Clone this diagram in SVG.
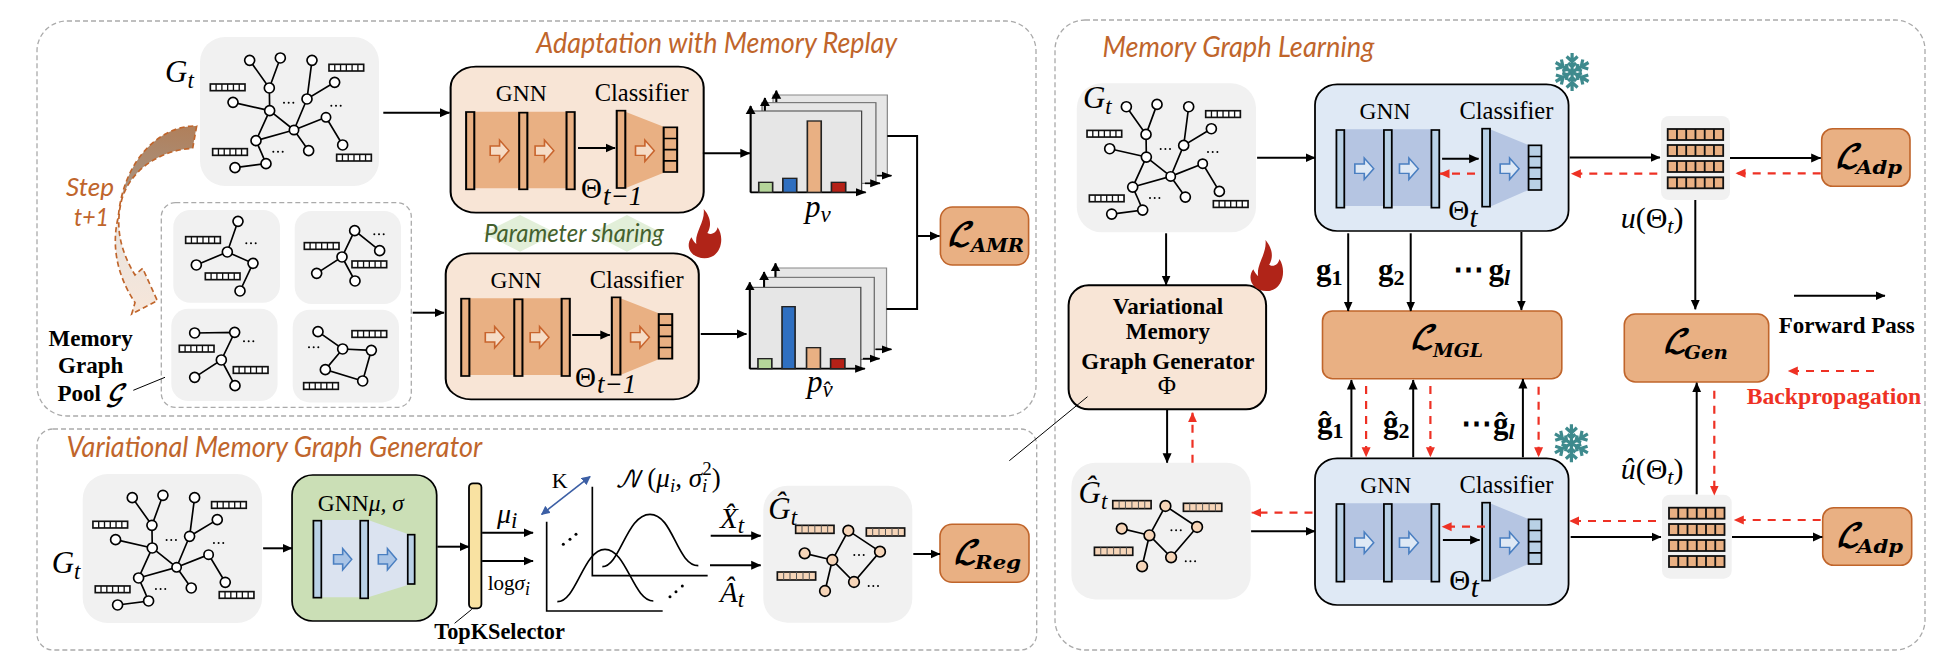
<svg xmlns="http://www.w3.org/2000/svg" width="1944" height="672" viewBox="0 0 1944 672">
<style>
text{font-family:"Liberation Serif","Times New Roman",serif;fill:#000}
.title{font-family:"Lato","Open Sans",sans-serif;font-style:italic;fill:#c0652b;font-size:28px}
.gnn{font-size:23.500px;text-anchor:middle}
.cls{font-size:24.500px;text-anchor:middle}
.bold{font-weight:bold;font-size:23px;text-anchor:middle}
.m{font-style:italic;font-size:31px}
.sub{font-style:italic;font-size:23px}
.th{font-size:29px}
.cal{font-family:"DejaVu Math TeX Gyre","DejaVu Sans",serif;font-weight:bold;font-style:italic;font-size:31px}
.ls{font-family:"DejaVu Serif","Liberation Serif",serif;font-weight:bold;font-style:italic;font-size:19px}
.gb{font-weight:bold;font-size:31px}
.gs{font-weight:bold;font-size:22px}
.panel{fill:none;stroke:#aaa;stroke-width:1.3;stroke-dasharray:5 3}
.gbox{fill:#f1f1f1}
.loss{fill:#e9b083;stroke:#c0652b;stroke-width:1.6}
.fw{fill:none;stroke:#000;stroke-width:2;marker-end:url(#ah)}
.fw2{fill:none;stroke:#000;stroke-width:2}
.bp{fill:none;stroke:#ee3124;stroke-width:2.2;stroke-dasharray:8 7;marker-end:url(#rh)}
.thin{fill:none;stroke:#000;stroke-width:1}
.e{fill:none;stroke:#000;stroke-width:5}
.nw{fill:#fff;stroke:#000;stroke-width:5}
.np{fill:#f6d5b8;stroke:#000;stroke-width:5}
.cell{fill:#e9b083;stroke:#111;stroke-width:1.8}
.axz{fill:none;stroke:#000;stroke-width:5;marker-end:url(#az)}
</style>
<defs>
<marker id="ah" markerUnits="userSpaceOnUse" markerWidth="11" markerHeight="11" refX="9.500" refY="5.500" orient="auto"><path d="M0 1L10 5.500L0 10Z" fill="#000"/></marker>
<marker id="rh" markerUnits="userSpaceOnUse" markerWidth="11" markerHeight="11" refX="9.500" refY="5.500" orient="auto"><path d="M0 1L10 5.500L0 10Z" fill="#ee3124"/></marker>
<marker id="bh" markerUnits="userSpaceOnUse" markerWidth="9" markerHeight="9" refX="8" refY="4.500" orient="auto-start-reverse"><path d="M0 0L9 4.500L0 9Z" fill="#3c5fa5"/></marker>
<marker id="az" markerUnits="userSpaceOnUse" markerWidth="26" markerHeight="26" refX="24" refY="13" orient="auto"><path d="M0 1L26 13L0 25Z" fill="#000"/></marker>
<linearGradient id="stepg" gradientUnits="userSpaceOnUse" x1="400" y1="345" x2="340" y2="910"><stop offset="0" stop-color="#b0805c"/><stop offset=".33" stop-color="#a8927f"/><stop offset=".48" stop-color="#e6e3e0"/><stop offset="1" stop-color="#f7e6d9"/></linearGradient>
<g id="bar" stroke="#111" stroke-width="5"><rect width="104" height="20"/><path d="M17.300 0v20M34.700 0v20M52 0v20M69.300 0v20M86.700 0v20" stroke-width="4" fill="none"/></g>
<g id="barH" stroke="#111" stroke-width="5"><rect width="115" height="24"/><path d="M19 0v24M38 0v24M57.500 0v24M77 0v24M96 0v24" stroke-width="3" fill="none" stroke="#555"/></g>
<g id="dots" fill="#000"><circle cx="-14" cy="0" r="3"/><circle cx="0" cy="0" r="3"/><circle cx="14" cy="0" r="3"/></g>
<g id="graphBig">
<path class="e" d="M689 151L748 234L781 144M748 234L749 302L639 277M749 302L822 360L708 392L749 302M876 151L861 267L944 217M861 267L822 360L918 322L968 405M822 360L866 422M708 392L725 430L738 461L645 473"/>
<g class="nw"><circle cx="689" cy="151" r="15"/><circle cx="781" cy="144" r="15"/><circle cx="748" cy="234" r="15"/><circle cx="639" cy="277" r="15"/><circle cx="749" cy="302" r="15"/><circle cx="876" cy="151" r="15"/><circle cx="944" cy="217" r="15"/><circle cx="861" cy="267" r="15"/><circle cx="918" cy="322" r="14"/><circle cx="822" cy="360" r="14"/><circle cx="708" cy="392" r="15"/><circle cx="866" cy="422" r="15"/><circle cx="968" cy="405" r="15"/><circle cx="738" cy="461" r="15"/><circle cx="645" cy="473" r="15"/></g>
<use href="#bar" x="927" y="163" fill="#fff"/><use href="#bar" x="571" y="222" fill="#fff"/><use href="#bar" x="578" y="416" fill="#fff"/><use href="#bar" x="950" y="433" fill="#fff"/>
<use href="#dots" x="806" y="278"/><use href="#dots" x="948" y="287"/><use href="#dots" x="774" y="425"/>
</g>
<g id="graphHat">
<path class="e" d="M925 332L1020 395L942 486L877 420L925 332M794 400L877 420L855 513"/>
<g class="np"><circle cx="925" cy="332" r="16"/><circle cx="1020" cy="395" r="16"/><circle cx="794" cy="400" r="16"/><circle cx="877" cy="420" r="16"/><circle cx="942" cy="486" r="16"/><circle cx="855" cy="513" r="16"/></g>
<use href="#barH" x="767" y="316" fill="#f6d5b8"/><use href="#barH" x="979" y="324" fill="#f6d5b8"/><use href="#barH" x="712" y="456" fill="#f6d5b8"/>
<use href="#dots" x="957" y="405"/><use href="#dots" x="1000" y="498"/>
</g>
<path id="hol" d="M-23 -14H0V-32L23 0L0 32V14H-23Z" stroke-width="4"/>
<g id="blockO">
<rect x="75" y="170" width="620" height="438" rx="62" fill="#f8e5d6" stroke="#000" stroke-width="5"/>
<path d="M133 305H359V535H133ZM503 305L597 350V488L503 535Z" fill="#e9b083"/>
<g fill="#e9b083" stroke="#000" stroke-width="5"><rect x="113" y="306" width="20" height="232"/><rect x="243" y="308" width="20" height="230"/><rect x="359" y="306" width="20" height="232"/><rect x="482" y="302" width="21" height="232"/><rect x="597" y="352" width="33" height="134"/><path d="M597 385.500H630M597 419H630M597 452.500H630" fill="none"/></g>
<g fill="#f6dcc6" stroke="#c8642d"><use href="#hol" x="195" y="422"/><use href="#hol" x="305" y="422"/><use href="#hol" x="551" y="422"/></g>
</g>
<g id="blockB">
<rect x="742" y="223" width="710" height="440" rx="62" fill="#dfe9f5" stroke="#000" stroke-width="5"/>
<path d="M824 358H1068V588H824ZM1232 358L1340 405V540L1232 590Z" fill="#b5c5e2"/>
<g fill="#b9d1e6" stroke="#000" stroke-width="5"><rect x="802" y="360" width="22" height="233"/><rect x="935" y="360" width="22" height="233"/><rect x="1068" y="360" width="22" height="233"/><rect x="1210" y="356" width="22" height="234"/><rect x="1340" y="406" width="36" height="134"/><path d="M1340 439.500H1376M1340 473H1376M1340 506.500H1376" fill="none"/></g>
<g fill="#dfe9f5" stroke="#4a7fc1"><use href="#hol" transform="translate(880 476) scale(1.15 1)"/><use href="#hol" transform="translate(1005 476) scale(1.15 1)"/><use href="#hol" transform="translate(1287 476) scale(1.15 1)"/></g>
</g>
<path id="flame" fill="#b02418" d="M38 0C52 20 60 45 47 72C58 80 70 70 72 55C90 85 82 148 40 148C10 148 -10 115 8 85C12 95 15 100 20 105C15 70 42 40 38 0Z"/>
<g id="snowArm"><path d="M0 0V-19M-5.500 -15.500L0 -10.500L5.500 -15.500M-4 -9L0 -5.500L4 -9" fill="none" stroke="#3e8a8d" stroke-width="3.200"/></g>
<g id="snow"><use href="#snowArm"/><use href="#snowArm" transform="rotate(60)"/><use href="#snowArm" transform="rotate(120)"/><use href="#snowArm" transform="rotate(180)"/><use href="#snowArm" transform="rotate(240)"/><use href="#snowArm" transform="rotate(300)"/></g>
<g id="matrixRow"><rect width="55.500" height="11"/><path d="M9.250 0v11M18.500 0v11M27.750 0v11M37 0v11M46.250 0v11" fill="none"/></g>
</defs>

<rect width="1944" height="672" fill="#fff"/>

<g id="panels">
<rect class="panel" x="37" y="21" width="999" height="395" rx="30"/>
<rect class="panel" x="37" y="429" width="999.700" height="221" rx="16"/>
<rect class="panel" x="1055" y="20" width="870" height="630" rx="30"/>
<rect class="panel" x="161.300" y="202.700" width="250" height="204.600" rx="14"/>
</g>
<g id="titles">
<text class="title" x="536.300" y="53" textLength="361" lengthAdjust="spacingAndGlyphs">Adaptation with Memory Replay</text>
<text class="title" x="66.500" y="457" textLength="415.700" lengthAdjust="spacingAndGlyphs">Variational Memory Graph Generator</text>
<text class="title" x="1102.500" y="57" textLength="271.800" lengthAdjust="spacingAndGlyphs">Memory Graph Learning</text>
</g>

<g id="step-arrow">
<g transform="translate(20 10) scale(.33333)">
<path d="M530 348L518 415C420 420 330 480 305 570C285 650 300 720 345 795L368 775L412 872L335 912L345 878C300 810 270 720 295 620C310 450 420 345 530 348Z" fill="url(#stepg)" stroke="#c0652b" stroke-width="5" stroke-dasharray="16 10"/>
</g>
<text class="title" style="font-size:25px" x="66" y="196" textLength="48" lengthAdjust="spacingAndGlyphs">Step</text>
<text class="title" style="font-size:25px" x="74" y="226" textLength="35" lengthAdjust="spacingAndGlyphs">t+1</text>
</g>

<g id="node-gt-top">
<rect class="gbox" x="200" y="37" width="179" height="149" rx="25"/>
<use href="#graphBig" transform="translate(20 10) scale(.33333)"/>
<text class="m" x="165" y="82">G<tspan class="sub" dy="6">t</tspan></text>
</g>

<g id="node-pool">
<rect class="gbox" x="173.300" y="210" width="106.700" height="92.700" rx="17"/>
<rect class="gbox" x="294.700" y="211" width="106.300" height="93" rx="17"/>
<rect class="gbox" x="171.300" y="308.700" width="106.300" height="92.300" rx="17"/>
<rect class="gbox" x="292.700" y="309.700" width="106.300" height="92.700" rx="17"/>
<g transform="translate(20 10) scale(.33333)">
<path class="e" d="M654 634L622 726L529 765M622 726L699 760L660 843"/>
<g class="nw"><circle cx="654" cy="634" r="15"/><circle cx="622" cy="726" r="15"/><circle cx="529" cy="765" r="15"/><circle cx="699" cy="760" r="15"/><circle cx="660" cy="843" r="15"/></g>
<use href="#bar" x="497" y="680" fill="#fff"/><use href="#bar" x="556" y="789" fill="#fff"/><use href="#dots" x="693" y="700"/>
<path class="e" d="M1079 722L1004 662L966 741L890 790M966 741L1005 813"/>
<g class="nw"><circle cx="1004" cy="662" r="15"/><circle cx="1079" cy="722" r="15"/><circle cx="966" cy="741" r="15"/><circle cx="890" cy="790" r="15"/><circle cx="1005" cy="813" r="15"/></g>
<use href="#bar" x="853" y="698" fill="#fff"/><use href="#bar" x="996" y="753" fill="#fff"/><use href="#dots" x="1077" y="673"/>
<path class="e" d="M524 969L644 967L604 1050L524 1102M604 1050L645 1127"/>
<g class="nw"><circle cx="524" cy="969" r="15"/><circle cx="644" cy="967" r="15"/><circle cx="604" cy="1050" r="15"/><circle cx="524" cy="1102" r="15"/><circle cx="645" cy="1127" r="15"/></g>
<use href="#bar" x="478" y="1006" fill="#fff"/><use href="#bar" x="640" y="1070" fill="#fff"/><use href="#dots" x="686" y="994"/>
<path class="e" d="M894 965L968 1017L1054 1021L1028 1113L916 1079L968 1017"/>
<g class="nw"><circle cx="894" cy="965" r="15"/><circle cx="968" cy="1017" r="15"/><circle cx="1054" cy="1021" r="15"/><circle cx="916" cy="1079" r="15"/><circle cx="1028" cy="1113" r="15"/></g>
<use href="#bar" x="996" y="962" fill="#fff"/><use href="#bar" x="851" y="1118" fill="#fff"/><use href="#dots" x="881" y="1012"/>
</g>
<text class="bold" x="90.700" y="346">Memory</text>
<text class="bold" x="90.700" y="373">Graph</text>
<text class="bold" x="90.700" y="400.700">Pool <tspan font-family="DejaVu Math TeX Gyre,DejaVu Sans,serif" font-style="italic">𝒢</tspan></text>
</g>

<g id="node-share">
<g transform="matrix(.40816 0 0 .33333 420 10)" fill="#e2efd9"><path d="M155 670L245 615L335 670L245 725Z"/><path d="M420 670L507 615L595 670L507 725Z"/></g>
<text class="title" style="fill:#44612e;font-size:26px" x="484" y="242" textLength="179.700" lengthAdjust="spacingAndGlyphs">Parameter sharing</text>
</g>

<g id="node-net-top">
<use href="#blockO" transform="matrix(.40816 0 0 .33333 420 10)"/>
<text class="gnn" x="521.200" y="100.700">GNN</text>
<text class="cls" x="641.600" y="100.700">Classifier</text>
<text class="th" x="581" y="198.300">Θ</text><text class="sub" style="font-size:27px" x="603" y="205">t−1</text>
</g>
<g id="node-net-bottom">
<use href="#blockO" transform="matrix(.40816 0 0 .33333 415.100 196.670)"/>
<text class="gnn" x="515.900" y="287.700">GNN</text>
<text class="cls" x="636.700" y="287.700">Classifier</text>
<text class="th" x="575" y="386.700">Θ</text><text class="sub" style="font-size:27px" x="597.100" y="393.300">t−1</text>
</g>
<use id="flame-1" href="#flame" transform="translate(688.200 209) scale(.408 .333)"/>

<g id="node-chart-top">
<g transform="matrix(.40816 0 0 .33333 420 10)">
<rect x="865" y="255" width="280" height="242" fill="#e6e6e6" stroke="#888" stroke-width="3"/>
<path class="axz" d="M873 278V242"/><path class="axz" d="M1120 497H1155"/>
<rect x="838" y="278" width="279" height="242" fill="#e6e6e6" stroke="#666" stroke-width="3"/>
<path class="axz" d="M845 303V264"/><path class="axz" d="M1090 520H1127"/>
<rect x="810" y="303" width="272" height="244" fill="#e6e6e6" stroke="#444" stroke-width="3"/>
<path class="axz" d="M810 547V288"/><path class="axz" d="M810 547H1092"/>
<g stroke="#222" stroke-width="4"><rect x="830" y="517" width="34" height="30" fill="#b5d59a"/><rect x="889" y="505" width="34" height="42" fill="#2f6fc0"/><rect x="949" y="333" width="34" height="214" fill="#e9b083"/><rect x="1008" y="517" width="35" height="30" fill="#b52117"/></g>
</g>
<text class="m" x="804.900" y="216.700">p<tspan class="sub" dy="5">v</tspan></text>
</g>
<g id="node-chart-bottom">
<g transform="matrix(.40816 0 0 .33333 420 10)">
<rect x="870" y="774" width="273" height="244" fill="#e6e6e6" stroke="#888" stroke-width="3"/>
<path class="axz" d="M871 802V760"/><path class="axz" d="M1116 1018H1155"/>
<rect x="843" y="802" width="270" height="246" fill="#e6e6e6" stroke="#666" stroke-width="3"/>
<path class="axz" d="M843 832V786"/><path class="axz" d="M1085 1046H1126"/>
<rect x="808" y="832" width="272" height="244" fill="#e6e6e6" stroke="#444" stroke-width="3"/>
<path class="axz" d="M808 1076V817"/><path class="axz" d="M808 1076H1090"/>
<g stroke="#222" stroke-width="4"><rect x="828" y="1046" width="34" height="30" fill="#b5d59a"/><rect x="887" y="890" width="32" height="186" fill="#2f6fc0"/><rect x="947" y="1013" width="34" height="63" fill="#e9b083"/><rect x="1006" y="1046" width="35" height="30" fill="#b52117"/></g>
</g>
<text class="m" x="806.900" y="391.700">p<tspan class="sub" dy="5">v̂</tspan></text>
</g>

<g id="node-loss-amr">
<rect class="loss" x="940.400" y="207" width="88.200" height="58" rx="12"/>
<text class="cal" x="947" y="245">ℒ</text><text class="ls" x="971" y="252" textLength="53" lengthAdjust="spacingAndGlyphs">AMR</text>
</g>

<g id="node-gt-bottom">
<rect class="gbox" x="82.700" y="474" width="179.400" height="149" rx="25"/>
<use href="#graphBig" transform="translate(-97.400 447.300) scale(.33333)"/>
<text class="m" x="51.700" y="572.700">G<tspan class="sub" dy="6">t</tspan></text>
</g>

<g id="node-gnn-mu">
<g transform="matrix(.34437 0 0 .33333 20 420)">
<rect x="790" y="165" width="420" height="438" rx="60" fill="#cbdfb6" stroke="#000" stroke-width="5"/>
<path d="M875 300H1011L1126 342V495L1011 532H875Z" fill="#dbe3f0"/>
<g fill="#b9d1e6" stroke="#000" stroke-width="5"><rect x="852" y="302" width="23" height="231"/><rect x="988" y="302" width="23" height="233"/><rect x="1126" y="344" width="20" height="148"/></g>
<g fill="#a9c4e6" stroke="#4a7fc1"><use href="#hol" transform="translate(937 418) scale(1.150 1)"/><use href="#hol" transform="translate(1067 418) scale(1.150 1)"/></g>
</g>
<text class="gnn" x="360.900" y="510.700">GNN<tspan font-style="italic">μ, σ</tspan></text>
</g>

<g id="node-topk">
<rect x="469" y="483.300" width="12.400" height="125" rx="4" fill="#f9e2a2" stroke="#000" stroke-width="1.800"/>
<text class="bold" x="499.600" y="639.300" style="font-size:22.300px">TopKSelector</text>
</g>
<g id="labels-mu">
<text class="m" x="497" y="523.300" style="font-size:28px">μ<tspan class="sub" dy="5">i</tspan></text>
<text x="487.700" y="590" style="font-size:21px">log<tspan font-style="italic">σ</tspan><tspan class="sub" style="font-size:18px" dy="5">i</tspan></text>
</g>

<g id="node-dist">
<g transform="translate(540 420) scale(.33333)">
<g fill="none" stroke="#000" stroke-width="5">
<path d="M157 200V467H503"/><path d="M20 305V573H368"/>
<path d="M187 440C240 440 260 283 330 283C400 283 410 437 475 437"/>
<path d="M52 545C110 545 130 388 195 388C260 388 280 543 340 543"/>
</g>
<g fill="#000"><circle cx="70" cy="373" r="4.500"/><circle cx="90" cy="358" r="4.500"/><circle cx="108" cy="343" r="4.500"/><circle cx="390" cy="530" r="4.500"/><circle cx="408" cy="515" r="4.500"/><circle cx="427" cy="498" r="4.500"/></g>
</g>
<path d="M590 476.700L541.700 514.300" fill="none" stroke="#3c5fa5" stroke-width="1.600" marker-start="url(#bh)" marker-end="url(#bh)"/>
<text x="551.700" y="488.300" style="font-size:22px">K</text>
<text x="615" y="486.700" style="font-size:27px"><tspan font-family="DejaVu Math TeX Gyre,DejaVu Sans,serif" font-style="italic" style="font-size:23px">𝒩</tspan> (<tspan font-style="italic">μ</tspan><tspan class="sub" dy="5" style="font-size:19px">i</tspan><tspan dy="-5">, </tspan><tspan font-style="italic">σ</tspan><tspan class="sub" dy="5" style="font-size:19px">i</tspan><tspan style="font-size:19px" dx="-5" dy="-17">2</tspan><tspan dy="12">)</tspan></text>
<text class="m" x="720" y="528.300" style="font-size:29px">X̂<tspan class="sub" dy="5">t</tspan></text>
<text class="m" x="720" y="601.700" style="font-size:29px">Â<tspan class="sub" dy="5">t</tspan></text>
</g>

<g id="node-ghat-bottom">
<rect class="gbox" x="763.300" y="485.700" width="149" height="137" rx="24"/>
<use href="#graphHat" transform="translate(540 420) scale(.33333)"/>
<text class="m" x="768.300" y="519.300">Ĝ<tspan class="sub" dy="6">t</tspan></text>
</g>
<g id="node-loss-reg">
<rect class="loss" x="940" y="524.300" width="89" height="58" rx="12"/>
<text class="cal" x="953" y="563">ℒ</text><text class="ls" x="975" y="569" textLength="46" lengthAdjust="spacingAndGlyphs">Reg</text>
</g>

<g id="node-gt-right">
<rect class="gbox" x="1076.800" y="83.300" width="179.200" height="149" rx="25"/>
<use href="#graphBig" transform="translate(896.700 56.400) scale(.33333)"/>
<text class="m" x="1082.900" y="108.300">G<tspan class="sub" dy="6">t</tspan></text>
</g>
<g id="node-vmg">
<rect x="1068.600" y="285.300" width="197.500" height="124" rx="20" fill="#f8e5d6" stroke="#000" stroke-width="2"/>
<text class="bold" x="1167.900" y="314">Variational</text>
<text class="bold" x="1167.900" y="339.300">Memory</text>
<text class="bold" x="1167.900" y="369.300">Graph Generator</text>
<text x="1166.800" y="394.300" style="font-size:25px" text-anchor="middle">Φ</text>
</g>
<use id="flame-2" href="#flame" transform="translate(1250 240) scale(.408 .345)"/>
<g id="node-ghat-right">
<rect class="gbox" x="1071.400" y="462.700" width="179.300" height="136.700" rx="24"/>
<use href="#graphHat" transform="translate(857.100 395.300) scale(.33333)"/>
<text class="m" x="1078.600" y="503.300">Ĝ<tspan class="sub" dy="6">t</tspan></text>
</g>

<g id="node-net-frozen-top">
<use href="#blockB" transform="matrix(.35714 0 0 .33333 1050 10)"/>
<text class="gnn" x="1385" y="119.300">GNN</text>
<text class="cls" x="1506.400" y="119.300">Classifier</text>
<text class="th" x="1448.200" y="220">Θ</text><text class="sub" style="font-size:29px" x="1469.500" y="226.700">t</text>
</g>
<use id="snow-1" href="#snow" transform="translate(1572.100 72)"/>
<g id="node-net-frozen-bottom">
<use href="#blockB" transform="matrix(.35714 0 0 .33333 1050 384)"/>
<text class="gnn" x="1385.700" y="493.300">GNN</text>
<text class="cls" x="1506.400" y="493.300">Classifier</text>
<text class="th" x="1449.300" y="590">Θ</text><text class="sub" style="font-size:29px" x="1470.700" y="596.700">t</text>
</g>
<use id="snow-2" href="#snow" transform="translate(1571.400 443.300)"/>

<g id="node-loss-mgl">
<rect class="loss" x="1322.500" y="311" width="239.300" height="67.700" rx="10"/>
<text class="cal" x="1410" y="348">ℒ</text><text class="ls" x="1432.900" y="356.700" textLength="50" lengthAdjust="spacingAndGlyphs">MGL</text>
</g>

<g id="labels-g">
<text class="gb" x="1316.100" y="280">g<tspan class="gs" dy="5">1</tspan></text>
<text class="gb" x="1377.900" y="280">g<tspan class="gs" dy="5">2</tspan></text>
<text class="gb" x="1452.900" y="280">⋯<tspan x="1488.600">g</tspan><tspan class="gs" font-style="italic" dy="5">l</tspan></text>
<text class="gb" x="1317.100" y="433.300">ĝ<tspan class="gs" dy="5">1</tspan></text>
<text class="gb" x="1382.900" y="433.300">ĝ<tspan class="gs" dy="5">2</tspan></text>
<text class="gb" x="1460.700" y="434">⋯<tspan x="1492.900">ĝ</tspan><tspan class="gs" font-style="italic" dy="5">l</tspan></text>
</g>

<g id="node-matrix-top">
<rect class="gbox" x="1661" y="116" width="69" height="84" rx="8"/>
<g class="cell"><use href="#matrixRow" x="1667.700" y="129"/><use href="#matrixRow" x="1667.700" y="145"/><use href="#matrixRow" x="1667.700" y="161"/><use href="#matrixRow" x="1667.700" y="177.300"/></g>
<text x="1620.700" y="228.300" style="font-size:30px"><tspan font-style="italic">u</tspan>(Θ<tspan class="sub" style="font-size:22px" dy="5">t</tspan><tspan dy="-5">)</tspan></text>
</g>
<g id="node-matrix-bottom">
<rect class="gbox" x="1662" y="494.700" width="69.700" height="84" rx="8"/>
<g class="cell"><use href="#matrixRow" x="1669" y="507.700"/><use href="#matrixRow" x="1669" y="524"/><use href="#matrixRow" x="1669" y="540"/><use href="#matrixRow" x="1669" y="556"/></g>
<text x="1620.700" y="479.300" style="font-size:30px"><tspan font-style="italic">û</tspan>(Θ<tspan class="sub" style="font-size:22px" dy="5">t</tspan><tspan dy="-5">)</tspan></text>
</g>
<g id="node-loss-adp-top">
<rect class="loss" x="1821.700" y="128.700" width="88.300" height="57.600" rx="11"/>
<text class="cal" x="1835" y="167">ℒ</text><text class="ls" x="1856" y="174.300" textLength="46" lengthAdjust="spacingAndGlyphs">Adp</text>
</g>
<g id="node-loss-adp-bottom">
<rect class="loss" x="1822.700" y="507.700" width="89" height="57.600" rx="11"/>
<text class="cal" x="1836" y="546">ℒ</text><text class="ls" x="1857" y="553.300" textLength="46" lengthAdjust="spacingAndGlyphs">Adp</text>
</g>
<g id="node-loss-gen">
<rect class="loss" x="1624.300" y="314" width="144.400" height="68" rx="11"/>
<text class="cal" x="1662.700" y="351.700">ℒ</text><text class="ls" x="1684" y="359" textLength="44" lengthAdjust="spacingAndGlyphs">Gen</text>
</g>
<g id="legend">
<text class="bold" x="1846.700" y="332.700">Forward Pass</text>
<text class="bold" x="1834" y="404" style="font-size:23.700px;fill:#ee3124">Backpropagation</text>
</g>

<g id="connectors">
<path class="fw" d="M383.300 112.700H449.500"/>
<path class="fw" d="M412.700 312.700H444"/>
<path class="thin" d="M133.300 390.300L165 377.300"/>
<path class="fw" d="M578 148H615.100"/>
<path class="fw" d="M572.200 335H609.800"/>
<path class="fw" d="M702.900 153.300H749.800"/>
<path class="fw" d="M700.800 334H746.500"/>
<path class="fw2" d="M887.300 136H917.100V309H886.500"/>
<path class="fw" d="M917.100 236H939.500"/>
<path class="fw" d="M263.100 548.300H292"/>
<path class="fw" d="M437.400 546.700H469"/>
<path class="fw" d="M482.100 532.700H533.100"/>
<path class="fw" d="M482.100 561H533.100"/>
<path class="thin" d="M454.600 623.300L471.800 609.300"/>
<path class="fw" d="M710.700 535.700H760.700"/>
<path class="fw" d="M710 565.300H760.700"/>
<path class="fw" d="M913.300 554H940"/>
<path class="thin" d="M1009.300 460.700L1087.500 396.700"/>
<path class="fw" d="M1257.100 157.700H1315"/>
<path class="fw" d="M1442.100 158.700H1478.600"/>
<path class="bp" d="M1475 173.700H1440"/>
<path class="fw" d="M1166.100 233.300V285"/>
<path class="fw" d="M1167.100 410V462.700"/>
<path class="bp" d="M1192.500 462.700V412.700"/>
<path class="fw" d="M1251.100 531.300H1315"/>
<path class="bp" d="M1312.500 512.700H1251.800"/>
<path class="fw" d="M1348.200 233.300V311"/>
<path class="fw" d="M1410.700 233.300V311"/>
<path class="fw" d="M1521.400 232V310"/>
<path class="fw" d="M1351.400 457.300V380"/>
<path class="fw" d="M1413.200 457.300V380"/>
<path class="fw" d="M1522.900 457.300V379"/>
<path class="bp" d="M1366.100 386V456.700"/>
<path class="bp" d="M1430.400 386V456.700"/>
<path class="bp" d="M1538.600 386.700V456.700"/>
<path class="bp" d="M1485 526.700H1442.100"/>
<path class="fw" d="M1442.900 540H1479.600"/>
<path class="fw" d="M1569.600 157.500H1660"/>
<path class="bp" d="M1657.300 173.700H1571.400"/>
<path class="fw" d="M1730 158H1820.700"/>
<path class="bp" d="M1820.700 173.300H1736"/>
<path class="fw" d="M1695.300 200V309.300"/>
<path class="fw" d="M1794 295.700H1885"/>
<path class="bp" d="M1874 371H1788.300"/>
<path class="fw" d="M1696.700 494.300V382.700"/>
<path class="bp" d="M1714.300 390.700V495"/>
<path class="fw" d="M1570.700 537H1661"/>
<path class="bp" d="M1656 521H1569.600"/>
<path class="fw" d="M1732 537H1822.300"/>
<path class="bp" d="M1820.700 520H1734.300"/>
</g>
</svg>
